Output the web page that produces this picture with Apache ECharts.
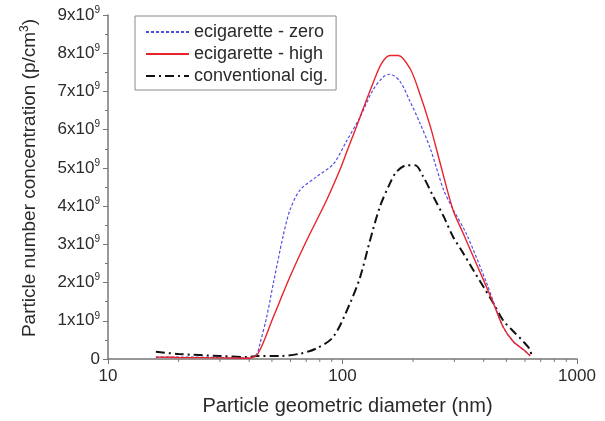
<!DOCTYPE html>
<html>
<head>
<meta charset="utf-8">
<script src="https://cdn.jsdelivr.net/npm/echarts@6/dist/echarts.min.js"></script>
<style>html,body{margin:0;padding:0;background:#fff}#c{width:605px;height:421px}</style>
</head>
<body>
<div id="c"></div>
<script>
// Diameters (nm) and concentrations (units of 1e9 p/cm3)
const zeroD = [16, 20, 30, 40, 43, 44.5, 47.5, 50.7, 55.7, 59.7, 65.9, 77.6, 91.4, 104, 119, 135, 150, 159.5, 176, 194, 214, 237, 270, 296, 339, 412, 483, 536, 592, 631];
const zeroV = [0.05, 0.05, 0.04, 0.03, 0.12, 0.41, 1.1, 1.98, 3.19, 3.9, 4.42, 4.77, 5.1, 5.7, 6.34, 7.04, 7.39, 7.45, 7.26, 6.74, 6.17, 5.5, 4.42, 3.92, 3.25, 1.98, 0.85, 0.45, 0.24, 0.1];
const highD = [16, 20, 30, 40, 43.7, 50.7, 59.7, 70.3, 85.6, 97.5, 104, 119, 135, 147, 159.5, 173, 194, 211, 237, 261, 296, 327, 361, 399, 440, 483, 536, 592, 631];
const highV = [0.05, 0.04, 0.03, 0.02, 0.15, 1.1, 2.15, 3.1, 4.16, 4.95, 5.4, 6.34, 7.22, 7.74, 7.94, 7.94, 7.6, 7.04, 6.08, 5.12, 3.9, 3.29, 2.68, 2.07, 1.46, 0.85, 0.45, 0.24, 0.08];
const convD = [16, 20, 30, 39.5, 43, 54, 66, 77.6, 91.4, 107.7, 119, 131, 144.5, 159.5, 170, 188, 204, 221, 244, 270, 296, 327, 361, 399, 440, 483, 536, 592, 631, 640];
const convV = [0.19, 0.13, 0.08, 0.05, 0.08, 0.08, 0.14, 0.28, 0.58, 1.46, 2.15, 3.1, 3.99, 4.6, 4.9, 5.07, 5.07, 4.77, 4.25, 3.73, 3.2, 2.77, 2.33, 1.89, 1.46, 1.02, 0.72, 0.45, 0.24, 0.05];
const seriesNames = ['ecigarette - zero', 'ecigarette - high', 'conventional cig.'];
const yTickValues = [0, 1, 2, 3, 4, 5, 6, 7, 8, 9];
const xMinorTicks = [20, 30, 40, 50, 60, 70, 80, 90, 200, 300, 400, 500, 600, 700, 800, 900];

const zip = (a, b) => a.map((v, i) => [v, b[i]]);
const FONT = 'Liberation Sans, Arial, sans-serif';
const axisCol = '#777';
const txtCol = '#2a2a2a';

const chart = echarts.init(document.getElementById('c'));
chart.setOption({
  animation: false,
  textStyle: { fontFamily: FONT },
  grid: { left: 108, right: 28, top: 15, bottom: 62 },
  legend: {
    data: seriesNames,
    orient: 'vertical',
    left: 135, top: 16,
    padding: [7, 8, 5, 10],
    itemGap: 4,
    itemWidth: 43, itemHeight: 18,
    borderColor: '#8a8a8a', borderWidth: 1,
    backgroundColor: '#fff',
    itemStyle: { opacity: 0 },
    textStyle: { fontSize: 18, color: txtCol, fontFamily: FONT }
  },
  xAxis: {
    type: 'log', logBase: 10, min: 10, max: 1000,
    name: 'Particle geometric diameter (nm)',
    nameLocation: 'middle', nameGap: 37,
    nameTextStyle: { fontSize: 20, color: txtCol, padding: [0, 0, 0, 10] },
    axisLine: { lineStyle: { color: axisCol, width: 1.5 } },
    axisTick: { show: true, inside: false, length: 5, lineStyle: { color: axisCol } },
    minorTick: { show: false },
    splitLine: { show: false },
    axisLabel: { fontSize: 17, color: txtCol, margin: 9, formatter: v => String(v) }
  },
  yAxis: {
    type: 'value', min: 0, max: 9, interval: 1,
    name: 'Particle number concentration (p/cm{s|3})',
    nameLocation: 'middle', nameGap: 68,
    nameTextStyle: { fontSize: 19, color: txtCol, padding: [0, 0, 0, 18], rich: { s: { fontSize: 12, verticalAlign: 'top', padding: [0, 0, 9, 0], color: txtCol } } },
    axisLine: { show: true, lineStyle: { color: axisCol, width: 1.5 } },
    axisTick: { show: true, inside: false, length: 5, lineStyle: { color: axisCol } },
    minorTick: { show: true, splitNumber: 2, length: 3, lineStyle: { color: axisCol } },
    splitLine: { show: false },
    axisLabel: {
      margin: 8,
      color: txtCol,
      formatter: v => (yTickValues.indexOf(v) < 0 ? '' : (v === 0 ? '{a|0}' : '{a|' + v + 'x10}{b|9}')),
      rich: {
        a: { fontSize: 17, color: txtCol, fontFamily: FONT },
        b: { fontSize: 10, color: txtCol, fontFamily: FONT, padding: [0, 0, 10, 0] }
      }
    }
  },
  series: [
    {
      name: seriesNames[0], type: 'line', data: zip(zeroD, zeroV),
      symbol: 'none', smooth: 0.3, z: 3,
      lineStyle: { color: '#4f4fe6', width: 1.2, type: [3, 2] },
      itemStyle: { color: '#4f4fe6' }
    },
    {
      name: seriesNames[1], type: 'line', data: zip(highD, highV),
      symbol: 'none', smooth: 0.3, z: 4,
      lineStyle: { color: '#e8232b', width: 1.4, type: 'solid' },
      itemStyle: { color: '#e8232b' }
    },
    {
      name: seriesNames[2], type: 'line', data: zip(convD, convV),
      symbol: 'none', smooth: 0.3, z: 2,
      lineStyle: { color: '#111', width: 2, type: [9, 4, 2, 4] },
      itemStyle: { color: '#111' }
    },
    {
      type: 'custom', silent: true, clip: false, z: 5,
      data: xMinorTicks.map(v => [v, 0]),
      encode: { x: 0, y: 1 },
      renderItem: (params, api) => {
        const p = api.coord([api.value(0), 0]);
        return { type: 'line', shape: { x1: p[0], y1: p[1], x2: p[0], y2: p[1] + 3 }, style: { stroke: axisCol, lineWidth: 1 } };
      }
    }
  ]
});
</script>
</body>
</html>
